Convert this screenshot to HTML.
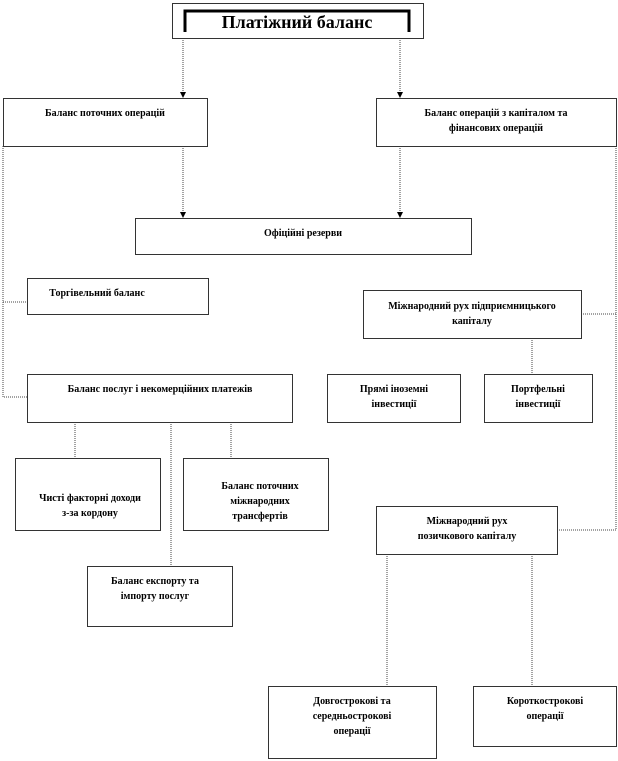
<!DOCTYPE html>
<html><head><meta charset="utf-8"><style>
html,body{margin:0;padding:0;background:#fff;}
svg{display:block;}
text{font-family:"Liberation Serif",serif;font-weight:bold;font-size:10px;fill:#000;text-anchor:middle;}
.b{fill:#fff;stroke:#333;stroke-width:1;}
.l{stroke:#444;stroke-width:1;stroke-dasharray:1 1;fill:none;}
</style></head><body>
<svg width="618" height="761" viewBox="0 0 618 761">
<defs><marker id="a" markerWidth="8" markerHeight="8" refX="4" refY="6" orient="0" markerUnits="userSpaceOnUse"><path d="M1,1 L7,1 L4,7 Z" fill="#000"/></marker></defs>
<line class="l" x1="183" y1="38" x2="183" y2="97" marker-end="url(#a)"/>
<line class="l" x1="400" y1="38" x2="400" y2="97" marker-end="url(#a)"/>
<line class="l" x1="183" y1="146" x2="183" y2="217" marker-end="url(#a)"/>
<line class="l" x1="400" y1="146" x2="400" y2="217" marker-end="url(#a)"/>
<polyline class="l" points="3,146 3,397 27,397"/>
<line class="l" x1="3" y1="302" x2="27" y2="302"/>
<polyline class="l" points="616,146 616,530 557,530"/>
<line class="l" x1="581" y1="314" x2="616" y2="314"/>
<line class="l" x1="532" y1="338" x2="532" y2="374"/>
<line class="l" x1="75" y1="422" x2="75" y2="458"/>
<line class="l" x1="171" y1="422" x2="171" y2="566"/>
<line class="l" x1="231" y1="422" x2="231" y2="458"/>
<line class="l" x1="387" y1="554" x2="387" y2="686"/>
<line class="l" x1="532" y1="554" x2="532" y2="686"/>

<rect class="b" x="172.5" y="3.5" width="251" height="35"/>
<path d="M185,32 V11 H409 V32" stroke="#000" stroke-width="3" fill="none"/>
<text x="297" y="28" style="font-size:18px">Платіжний  баланс</text>

<rect class="b" x="3.5" y="98.5" width="204" height="48"/>
<text x="105" y="116">Баланс поточних операцій</text>
<rect class="b" x="376.5" y="98.5" width="240" height="48"/>
<text x="496" y="116">Баланс операцій з капіталом та</text>
<text x="496" y="131">фінансових операцій</text>

<rect class="b" x="135.5" y="218.5" width="336" height="36"/>
<text x="303" y="236">Офіційні резерви</text>

<rect class="b" x="27.5" y="278.5" width="181" height="36"/>
<text x="97" y="296">Торгівельний баланс</text>

<rect class="b" x="363.5" y="290.5" width="218" height="48"/>
<text x="472" y="309">Міжнародний рух підприємницького</text>
<text x="472" y="324">капіталу</text>

<rect class="b" x="27.5" y="374.5" width="265" height="48"/>
<text x="160" y="392">Баланс послуг і некомерційних платежів</text>

<rect class="b" x="327.5" y="374.5" width="133" height="48"/>
<text x="394" y="392">Прямі іноземні</text>
<text x="394" y="407">інвестиції</text>
<rect class="b" x="484.5" y="374.5" width="108" height="48"/>
<text x="538" y="392">Портфельні</text>
<text x="538" y="407">інвестиції</text>

<rect class="b" x="15.5" y="458.5" width="145" height="72"/>
<text x="90" y="501">Чисті факторні доходи</text>
<text x="90" y="516">з-за кордону</text>
<rect class="b" x="183.5" y="458.5" width="145" height="72"/>
<text x="260" y="489">Баланс поточних</text>
<text x="260" y="504">міжнародних</text>
<text x="260" y="519">трансфертів</text>

<rect class="b" x="376.5" y="506.5" width="181" height="48"/>
<text x="467" y="524">Міжнародний рух</text>
<text x="467" y="539">позичкового капіталу</text>

<rect class="b" x="87.5" y="566.5" width="145" height="60"/>
<text x="155" y="584">Баланс експорту та</text>
<text x="155" y="599">імпорту послуг</text>

<rect class="b" x="268.5" y="686.5" width="168" height="72"/>
<text x="352" y="704">Довгострокові та</text>
<text x="352" y="719">середньострокові</text>
<text x="352" y="734">операції</text>
<rect class="b" x="473.5" y="686.5" width="143" height="60"/>
<text x="545" y="704">Короткострокові</text>
<text x="545" y="719">операції</text>
</svg>
</body></html>
